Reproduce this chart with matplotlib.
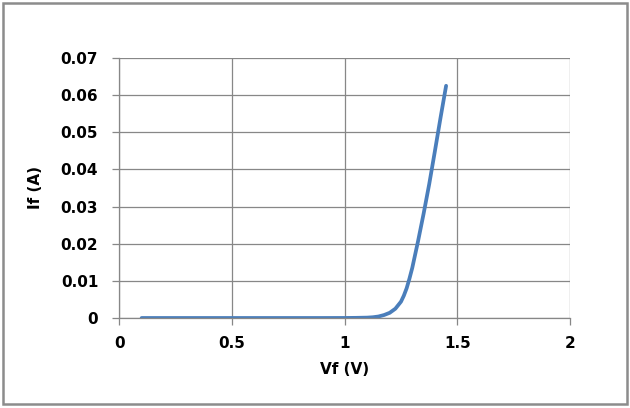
import numpy as np
import matplotlib.pyplot as plt
from matplotlib.patches import Rectangle

# forward voltage (V) and forward current (A)
vf = [0.1, 0.2, 0.3, 0.4, 0.5, 0.6, 0.7, 0.8, 0.9, 1.0, 1.05, 1.1, 1.125,
      1.15, 1.175, 1.2, 1.225, 1.25, 1.2625, 1.275, 1.2875, 1.3, 1.325,
      1.35, 1.375, 1.4, 1.425, 1.45]
i_f = [0.0, 0.0, 0.0, 0.0, 0.0, 0.0, 0.0, 0.0, 0.0, 0.00001, 0.00004, 0.0001,
       0.0002, 0.0004, 0.0008, 0.0014, 0.0025, 0.0044, 0.0060, 0.0080,
       0.0106, 0.0135, 0.0205, 0.0280, 0.0360, 0.0448, 0.0538, 0.0625]

x_ticks = [0, 0.5, 1, 1.5, 2]
x_labels = ["0", "0.5", "1", "1.5", "2"]
y_ticks = [0, 0.01, 0.02, 0.03, 0.04, 0.05, 0.06, 0.07]
y_labels = ["0", "0.01", "0.02", "0.03", "0.04", "0.05", "0.06", "0.07"]

grid_col = "#878787"

fig = plt.figure(figsize=(6.3, 4.08), dpi=100)
ax = fig.add_axes([0.189, 0.2206, 0.716, 0.6374])

ax.plot(vf, i_f, color="#4A7EBB", lw=2.7, solid_capstyle="round",
        solid_joinstyle="round")

ax.set_xlim(0, 2)
ax.set_ylim(0, 0.07)
ax.set_xticks(x_ticks)
ax.set_xticklabels(x_labels)
ax.set_yticks(y_ticks)
ax.set_yticklabels(y_labels)
ax.grid(True, color=grid_col, lw=0.9)
ax.set_axisbelow(True)

for s in ["top", "right"]:
    ax.spines[s].set_visible(False)
for s in ["left", "bottom"]:
    ax.spines[s].set_color(grid_col)
    ax.spines[s].set_linewidth(0.9)

ax.tick_params(direction="out", length=5, width=0.9, color=grid_col,
               labelsize=11, pad=8)
ax.tick_params(axis="y", pad=10)
for lab in ax.get_xticklabels() + ax.get_yticklabels():
    lab.set_fontweight("bold")

ax.set_xlabel("Vf (V)", fontsize=11, fontweight="bold", labelpad=8)
ax.set_ylabel("If (A)", fontsize=11, fontweight="bold", labelpad=13)

# outer chart border
fig.patches.append(Rectangle((0.004, 0.009), 0.991, 0.983, transform=fig.transFigure,
                             fill=False, edgecolor="#8c8c8c", lw=1.8))

fig.savefig("out.png", dpi=100)
